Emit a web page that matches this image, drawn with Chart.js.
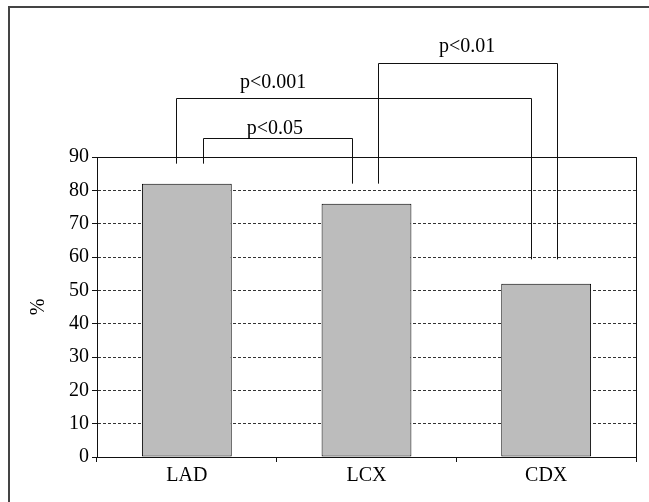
<!DOCTYPE html>
<html>
<head>
<meta charset="utf-8">
<script src="https://cdn.jsdelivr.net/npm/chart.js@4/dist/chart.umd.min.js"></script>
<style>
  html, body { margin: 0; padding: 0; background: #fff; }
  #wrap { position: relative; width: 649px; height: 502px; }
</style>
</head>
<body>
<div id="wrap"><canvas id="grafica" width="649" height="502"></canvas></div>
<script>
// datos
const categorias = ['LAD', 'LCX', 'CDX'];
const porcentajes = [82, 76, 52];
const marcasY = [0, 10, 20, 30, 40, 50, 60, 70, 80, 90];
const etiquetasP = ['p<0.05', 'p<0.001', 'p<0.01'];

// geometria de los corchetes (x en unidades de categoria, y en unidades del eje)
const corchetes = [
  { x1: 0.088, x2: 0.918, alto: 95.6, pie1: 88, pie2: 82, tx: 0.49, ty: 96.8 },
  { x1: -0.06, x2: 1.915, alto: 107.6, pie1: 88, pie2: 59.3, tx: 0.48, ty: 110.8 },
  { x1: 1.066, x2: 2.062, alto: 118.3, pie1: 82, pie2: 59.3, tx: 1.56, ty: 121.6 }
];

const fuente = '"Liberation Serif", "Times New Roman", serif';

const pluginMarco = {
  id: 'marco',
  beforeDraw(chart) {
    const ctx = chart.ctx;
    ctx.save();
    ctx.strokeStyle = '#444';
    ctx.lineWidth = 2;
    ctx.beginPath();
    ctx.moveTo(9, 502);
    ctx.lineTo(9, 7);
    ctx.lineTo(649, 7);
    ctx.stroke();
    ctx.restore();
  },
  afterDraw(chart) {
    const ctx = chart.ctx;
    const a = chart.chartArea;
    const x = chart.scales.x;
    const y = chart.scales.y;
    ctx.save();
    ctx.strokeStyle = '#111';
    ctx.lineWidth = 1;
    ctx.strokeRect(Math.round(a.left) + 0.5, Math.round(a.top) + 0.5,
      Math.round(a.right - a.left), Math.round(a.bottom - a.top));

    ctx.font = '20px ' + fuente;
    ctx.fillStyle = '#000';
    ctx.textAlign = 'center';
    ctx.textBaseline = 'alphabetic';
    corchetes.forEach(function(c, i) {
      const px1 = Math.round(x.getPixelForValue(c.x1)) + 0.5;
      const px2 = Math.round(x.getPixelForValue(c.x2)) + 0.5;
      const py = Math.round(y.getPixelForValue(c.alto)) + 0.5;
      ctx.beginPath();
      ctx.moveTo(px1, y.getPixelForValue(c.pie1));
      ctx.lineTo(px1, py);
      ctx.lineTo(px2, py);
      ctx.lineTo(px2, y.getPixelForValue(c.pie2));
      ctx.stroke();
      ctx.fillText(etiquetasP[i], x.getPixelForValue(c.tx), y.getPixelForValue(c.ty));
    });
    ctx.restore();
  }
};

new Chart(document.getElementById('grafica'), {
  type: 'bar',
  data: {
    labels: categorias,
    datasets: [{
      data: porcentajes,
      backgroundColor: '#bcbcbc',
      borderColor: '#000',
      borderWidth: 1,
      borderSkipped: false,
      barPercentage: 0.5,
      categoryPercentage: 1.0
    }]
  },
  options: {
    responsive: false,
    animation: false,
    devicePixelRatio: 1,
    layout: { padding: { left: 23, top: 157, right: 13, bottom: 12 } },
    plugins: { legend: { display: false }, tooltip: { enabled: false } },
    scales: {
      x: {
        grid: { drawOnChartArea: false, tickLength: 5, color: '#111', offset: true },
        border: { color: '#111', width: 1 },
        ticks: { color: '#000', padding: 2, font: { family: fuente, size: 20 } }
      },
      y: {
        min: 0,
        max: 90,
        afterFit: function(scale) { scale.width = 74; },
        afterBuildTicks: function(scale) {
          scale.ticks = marcasY.map(v => ({ value: v }));
        },
        grid: { color: '#333', lineWidth: 1, tickLength: 5, tickColor: '#111', tickBorderDash: [] },
        border: { color: '#111', width: 1, dash: [3, 2] },
        ticks: { color: '#000', padding: 3, font: { family: fuente, size: 20 } },
        title: { display: true, text: '%', color: '#000', font: { family: fuente, size: 20 } }
      }
    }
  },
  plugins: [pluginMarco]
});
</script>
</body>
</html>
